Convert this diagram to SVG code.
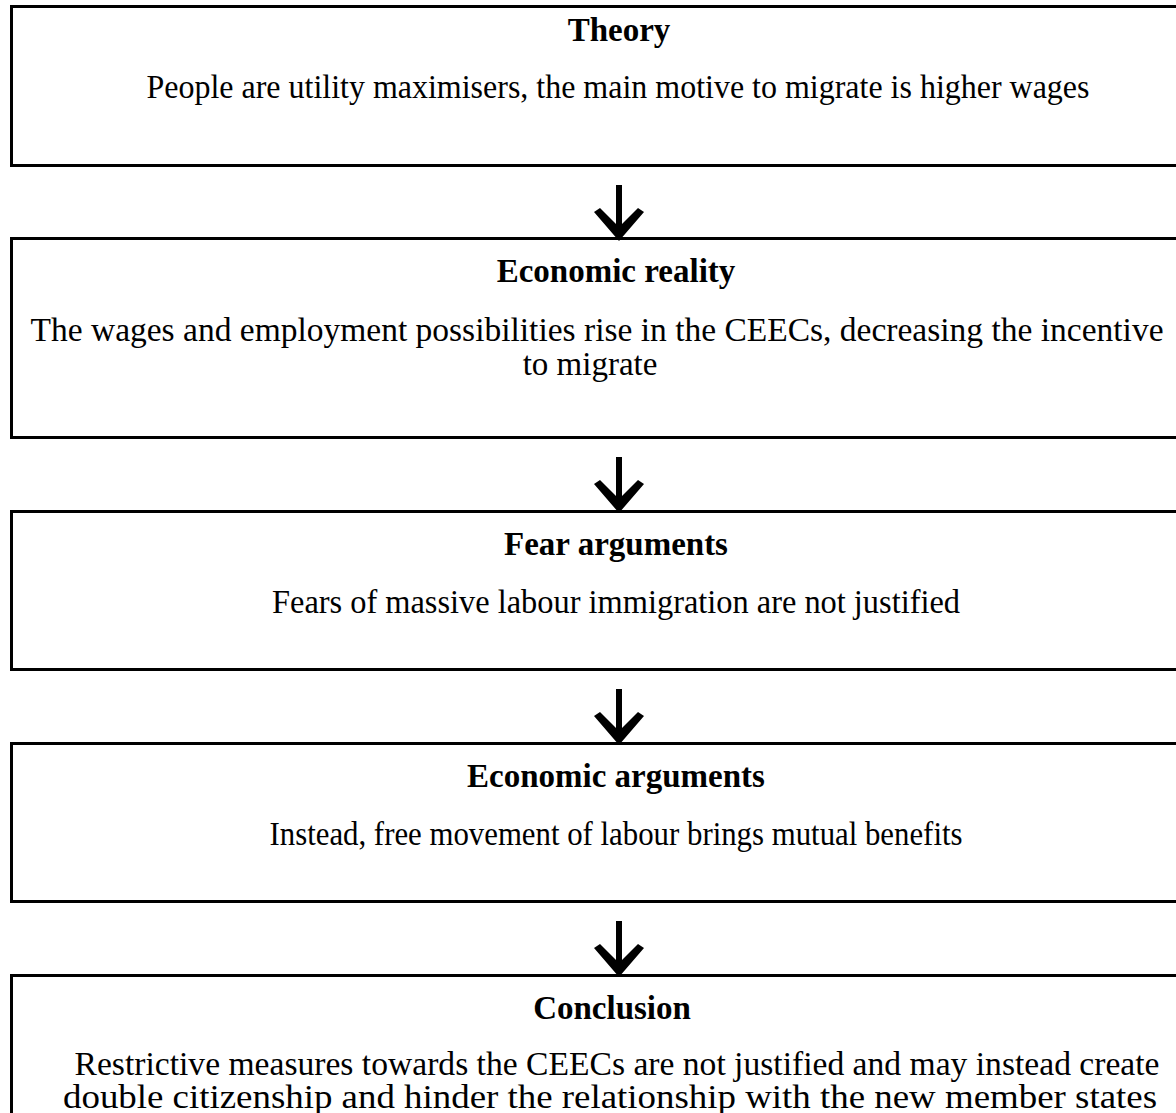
<svg xmlns="http://www.w3.org/2000/svg" width="1176" height="1113" viewBox="0 0 1176 1113">
<style>
.box{fill:#fff;stroke:#000;stroke-width:3}
.t{font-family:"Liberation Serif","Times New Roman",serif;font-size:33px;fill:#000;text-anchor:middle}
.h{font-weight:bold}
.ar{fill:#000}
</style>
<defs>
<g id="arrowhead"><path d="M0,0 L-25,-29 L-19,-33 L0,-14 L19,-33 L25,-29 Z"/></g>
</defs>
<rect width="1176" height="1113" fill="#fff"/>
<g id="node-theory">
<rect class="box" x="11.5" y="6.5" width="1180" height="159"/>
<text class="t h" x="619" y="41">Theory</text>
<text class="t" x="618" y="98" textLength="943" lengthAdjust="spacingAndGlyphs">People are utility maximisers, the main motive to migrate is higher wages</text>
</g>
<g id="node-reality">
<rect class="box" x="11.5" y="238.5" width="1180" height="199"/>
<text class="t h" x="616" y="282">Economic reality</text>
<text class="t" x="597" y="341" textLength="1133" lengthAdjust="spacingAndGlyphs">The wages and employment possibilities rise in the CEECs, decreasing the incentive</text>
<text class="t" x="590" y="375">to migrate</text>
</g>
<g id="node-fear">
<rect class="box" x="11.5" y="511.5" width="1180" height="158"/>
<text class="t h" x="616" y="555">Fear arguments</text>
<text class="t" x="616" y="613" textLength="688" lengthAdjust="spacingAndGlyphs">Fears of massive labour immigration are not justified</text>
</g>
<g id="node-econ">
<rect class="box" x="11.5" y="743.5" width="1180" height="158"/>
<text class="t h" x="616" y="787">Economic arguments</text>
<text class="t" x="616" y="845" textLength="693" lengthAdjust="spacingAndGlyphs">Instead, free movement of labour brings mutual benefits</text>
</g>
<g id="node-conclusion">
<rect class="box" x="11.5" y="975.5" width="1180" height="160"/>
<text class="t h" x="612" y="1019">Conclusion</text>
<text class="t" x="617" y="1075" textLength="1085" lengthAdjust="spacingAndGlyphs">Restrictive measures towards the CEECs are not justified and may instead create</text>
<text class="t" x="610" y="1108" textLength="1094" lengthAdjust="spacingAndGlyphs">double citizenship and hinder the relationship with the new member states</text>
</g>
<g id="connectors" class="ar">
<rect x="616" y="185" width="6" height="45"/>
<use href="#arrowhead" x="619" y="241"/>
<rect x="616" y="457" width="6" height="46"/>
<use href="#arrowhead" x="619" y="513"/>
<rect x="616" y="689" width="6" height="46"/>
<use href="#arrowhead" x="619" y="745"/>
<rect x="616" y="921" width="6" height="46"/>
<use href="#arrowhead" x="619" y="977"/>
</g>
</svg>
